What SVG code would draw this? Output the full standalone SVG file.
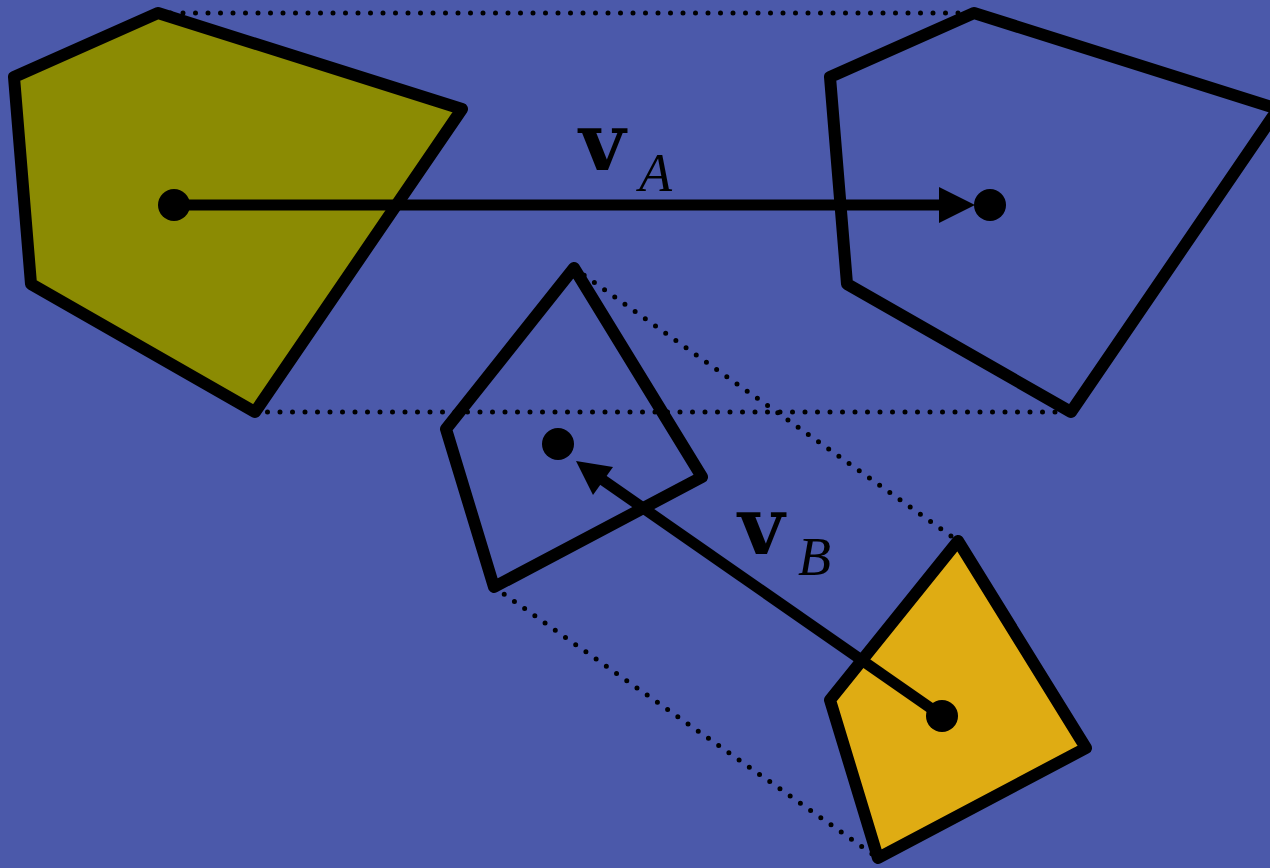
<svg xmlns="http://www.w3.org/2000/svg" width="1270" height="868" viewBox="0 0 1270 868">
<style>
.poly{stroke:#000;stroke-width:12;stroke-linejoin:round;stroke-linecap:round}
.dot{stroke:#000;stroke-width:5;stroke-dasharray:0 12.5;stroke-linecap:round;fill:none}
.arr{stroke:#000;stroke-width:11;fill:none}
.bold{font-family:"DejaVu Serif",serif;font-weight:bold;font-size:80px;fill:#000}
.ital{font-family:"Liberation Serif","DejaVu Serif",serif;font-style:italic;font-size:54px;fill:#000}
</style>
<rect width="1270" height="868" fill="#4b59aa"/>
<g id="shapeA"><polygon class="poly" fill="#8b8b03" points="158,13 462,109 255,412 31,284 14,77"/></g>
<g id="shapeA2"><polygon class="poly" fill="none" points="974,13 1278,109 1071,412 847,284 830,77"/></g>
<g id="shapeB2"><polygon class="poly" fill="none" points="574,268 702,477 494,587 446,429"/></g>
<g id="shapeB"><polygon class="poly" fill="#dfac13" points="958,541 1086,748 878,858 830,700"/></g>
<g id="connectors">
<line class="dot" x1="158" y1="13" x2="974" y2="13"/>
<line class="dot" x1="255" y1="412" x2="1071" y2="412"/>
<line class="dot" x1="574" y1="268" x2="958" y2="541"/>
<line class="dot" x1="494" y1="587" x2="878" y2="858"/>
<line class="arr" x1="174" y1="205" x2="945" y2="205"/>
<polygon points="939,187 975,205 939,223" fill="#000"/>
<line class="arr" x1="942" y1="716" x2="600" y2="478"/>
<polygon points="576,461 613,467 593,495" fill="#000"/>
<circle cx="174" cy="205" r="16" fill="#000"/>
<circle cx="990" cy="205" r="16" fill="#000"/>
<circle cx="558" cy="444" r="16" fill="#000"/>
<circle cx="942" cy="716" r="16" fill="#000"/>
</g>
<g id="labelA"><text class="bold" x="579" y="170">v</text><text class="ital" x="639" y="191">A</text></g>
<g id="labelB"><text class="bold" x="738" y="554">v</text><text class="ital" x="798" y="575">B</text></g>
</svg>
